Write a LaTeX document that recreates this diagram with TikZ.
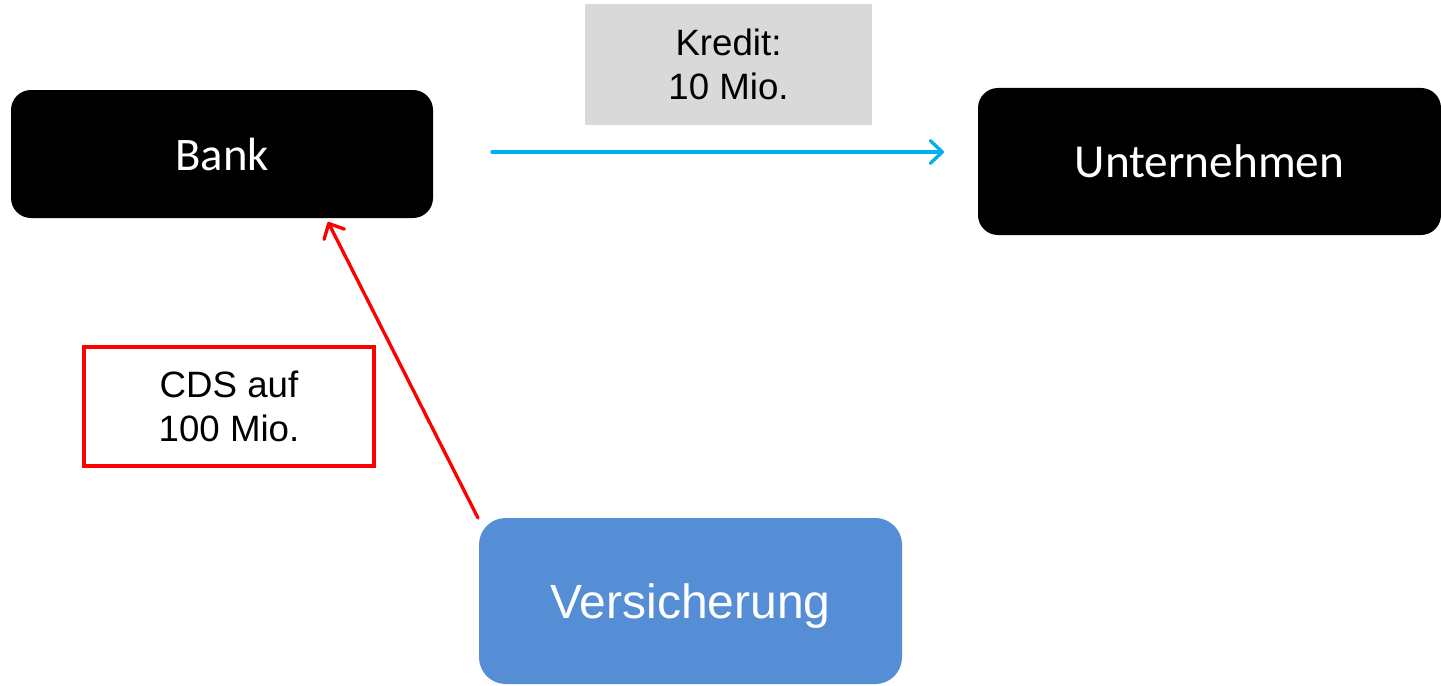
\documentclass[tikz,border=0pt]{standalone}
\usepackage{fontspec}
\setmainfont{Liberation Sans}
\newfontfamily\calibrifont{Carlito}
\usetikzlibrary{arrows.meta}
\definecolor{bluearrow}{HTML}{00B0F0}
\definecolor{versblue}{HTML}{558ED5}
\definecolor{greybox}{HTML}{D9D9D9}
\definecolor{redcol}{HTML}{FF0000}
\begin{document}
\begin{tikzpicture}[x=0.75pt,y=-0.75pt,
  blackbox/.style={fill=black,text=white,rounded corners=15pt,inner sep=0pt,align=center,font=\calibrifont},
  labelbox/.style={inner sep=0pt,align=center},
  conn/.style={line width=2.5pt,line cap=round,-{Straight Barb[length=9pt,width=17pt,line width=2.5pt,round]}}]
\useasboundingbox (0,0) rectangle (1441,685);
\node[blackbox,minimum width=316.5pt,minimum height=96pt,font=\calibrifont\fontsize{35}{40}\selectfont] (bank) at (222,154) {Bank};
\node[blackbox,minimum width=347.25pt,minimum height=110.25pt,font=\calibrifont\fontsize{35.5}{40}\selectfont] (unt) at (1209.5,161.5) {Unternehmen};
\node[blackbox,fill=versblue,rounded corners=20pt,text depth=0pt,minimum width=317.25pt,minimum height=124.5pt,font=\fontsize{36}{40}\selectfont] (vers) at (690.5,601) {Versicherung};
\node[labelbox,fill=greybox,minimum width=215.25pt,minimum height=90.75pt,font=\fontsize{27.5}{32.5}\selectfont] (kredit) at (728.5,64.5) {Kredit:\\10 Mio.};
\node[labelbox,draw=redcol,line width=3.5pt,minimum width=217.5pt,minimum height=89.25pt,font=\fontsize{27.5}{33.5}\selectfont] (cds) at (229,406.5) {CDS auf\\100 Mio.};
\coordinate (bstart) at (492,152);
\coordinate (bend) at (944,152);
\coordinate (rstart) at (478,518);
\coordinate (rend) at (328,222);
\draw[conn,draw=bluearrow] (bstart) -- (bend);
\draw[conn,draw=redcol] (rstart) -- (rend);
\end{tikzpicture}
\end{document}
